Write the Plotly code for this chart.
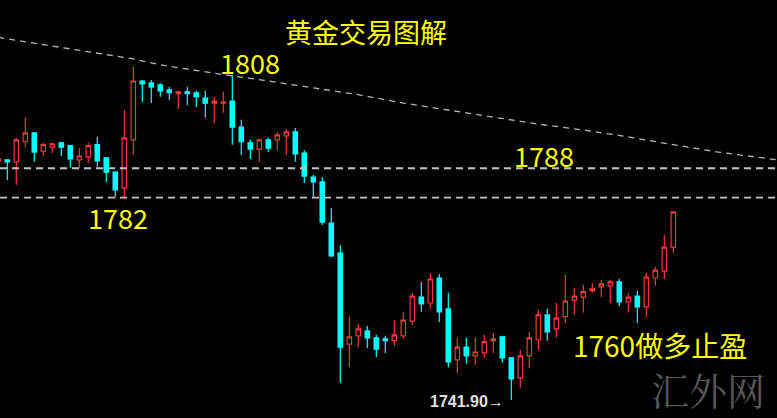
import plotly.graph_objects as go

# ---- data (price units) ----
opens = [1790.7, 1790.9, 1790.5, 1794.6, 1796.4, 1792.7, 1793.5, 1794.4, 1793.8, 1790.9,
         1791.5, 1794.0, 1791.3, 1788.4, 1785.2, 1795.0, 1807.0, 1806.6, 1806.2, 1805.2,
         1804.4, 1804.8, 1804.6, 1803.5, 1802.5, 1802.5, 1802.9, 1797.6, 1794.4, 1793.1,
         1795.0, 1795.0, 1795.8, 1796.6, 1792.3, 1787.4, 1786.4, 1778.0, 1771.9, 1753.3,
         1755.0, 1756.0, 1754.6, 1754.4, 1754.0, 1755.0, 1758.0, 1762.9, 1761.7, 1766.8,
         1760.5, 1750.1, 1752.7, 1750.9, 1751.5, 1754.0, 1754.8, 1750.5, 1746.4, 1750.9,
         1754.2, 1759.3, 1756.4, 1758.9, 1762.3, 1762.9, 1764.2, 1765.0, 1765.2, 1766.0,
         1761.9, 1763.1, 1760.9, 1766.8, 1768.2, 1773.1]
highs = [1791.5, 1791.1, 1795.4, 1799.5, 1796.6, 1794.4, 1794.4, 1794.6, 1794.0, 1793.3,
         1794.4, 1795.6, 1791.5, 1788.6, 1801.1, 1809.9, 1807.2, 1807.2, 1806.6, 1805.8,
         1805.0, 1805.8, 1805.0, 1805.0, 1803.8, 1804.8, 1808.2, 1799.1, 1795.0, 1795.2,
         1795.4, 1796.6, 1797.2, 1797.4, 1792.9, 1787.8, 1787.4, 1781.1, 1773.5, 1758.9,
         1757.4, 1757.0, 1755.2, 1755.0, 1758.2, 1759.9, 1763.8, 1766.0, 1767.8, 1767.6,
         1763.8, 1754.6, 1754.6, 1754.6, 1755.2, 1755.6, 1755.0, 1750.7, 1752.1, 1755.8,
         1760.3, 1760.5, 1761.7, 1767.4, 1764.8, 1765.4, 1765.8, 1766.4, 1766.4, 1766.6,
         1763.8, 1764.2, 1767.8, 1769.1, 1775.6, 1780.3]
lows = [1790.3, 1786.8, 1785.8, 1793.5, 1790.5, 1791.7, 1792.3, 1791.7, 1789.3, 1789.3,
        1790.3, 1789.5, 1786.4, 1783.3, 1783.1, 1791.9, 1802.7, 1802.5, 1803.8, 1803.1,
        1801.3, 1802.1, 1801.7, 1799.5, 1798.4, 1800.5, 1794.0, 1791.9, 1791.1, 1790.5,
        1792.5, 1792.9, 1791.9, 1790.5, 1786.2, 1783.1, 1777.6, 1771.1, 1745.4, 1748.6,
        1752.7, 1752.5, 1750.7, 1751.5, 1752.9, 1754.4, 1757.2, 1759.9, 1760.5, 1757.8,
        1748.6, 1747.4, 1749.3, 1749.1, 1750.5, 1751.5, 1749.5, 1741.9, 1744.4, 1748.4,
        1752.1, 1754.0, 1754.6, 1757.6, 1759.3, 1759.7, 1763.8, 1762.9, 1761.7, 1761.1,
        1759.7, 1757.6, 1758.9, 1765.2, 1766.6, 1771.9]
closes = [1791.1, 1790.5, 1795.0, 1796.4, 1792.5, 1794.0, 1794.2, 1793.5, 1791.1, 1791.7,
          1793.8, 1790.7, 1788.4, 1784.8, 1795.4, 1807.0, 1806.4, 1805.8, 1805.0, 1804.6,
          1804.8, 1804.4, 1803.8, 1802.5, 1802.9, 1802.7, 1797.6, 1794.6, 1793.1, 1795.0,
          1793.3, 1796.0, 1796.6, 1792.1, 1787.6, 1786.4, 1778.2, 1771.3, 1752.7, 1754.8,
          1756.4, 1754.6, 1752.3, 1754.0, 1755.2, 1758.2, 1763.1, 1761.5, 1766.6, 1759.9,
          1749.7, 1752.7, 1750.9, 1751.7, 1753.8, 1754.4, 1750.5, 1746.2, 1750.9, 1754.6,
          1759.3, 1755.8, 1758.6, 1762.1, 1763.1, 1764.0, 1764.6, 1765.6, 1766.0, 1761.9,
          1762.9, 1760.9, 1767.0, 1768.4, 1773.1, 1780.3]
bars = list(range(len(opens)))

# declining moving-average (dashed), sampled at bar positions
ma_x = [0, 5, 10, 15, 18, 22, 25, 30, 35, 40, 45, 50, 55, 60, 65, 70, 75, 80, 87]
ma_y = [1815.9, 1814.4, 1812.9, 1811.5, 1810.3, 1809.1, 1808.3, 1807.0, 1805.6, 1804.2,
        1802.5, 1801.1, 1799.7, 1798.2, 1797.0, 1795.6, 1794.0, 1792.5, 1790.8]

# horizontal support/resistance levels
levels = [1789.2, 1783.2]

# texts
title_text = "黄金交易图解"
label_texts = ["1808", "1788", "1782", "1760做多止盈"]
low_label = "1741.90→"
watermark = "汇外网"

W, H = 777, 418
RED = "#ee3a3a"
CYAN = "#00ffff"
YELLOW = "#ffff00"

fig = go.Figure()

fig.add_trace(go.Scatter(
    x=ma_x, y=ma_y, mode="lines",
    line=dict(color="#b4b4b4", width=1.3, dash="6px,5px"),
    hoverinfo="skip"))

fig.add_trace(go.Candlestick(
    x=bars, open=opens, high=highs, low=lows, close=closes,
    increasing=dict(line=dict(color=RED, width=1.2), fillcolor="#000000"),
    decreasing=dict(line=dict(color=CYAN, width=1.2), fillcolor=CYAN),
    whiskerwidth=0))

for lv in levels:
    fig.add_shape(type="line", xref="paper", x0=0, x1=1, yref="y", y0=lv, y1=lv,
                  line=dict(color="#c4c4c4", width=1.8, dash="7px,5px"), layer="above")

def px2paper(px, py):
    return px / W, 1 - py / H

ann = []
cjk = "Noto Sans CJK SC"
for txt, (cx, cy), size in [
        (title_text, (366, 32), 27),
        (label_texts[0], (250, 62), 27),
        (label_texts[1], (544, 156), 27),
        (label_texts[2], (118, 217), 27),
        (label_texts[3], (660, 345), 28)]:
    x, y = px2paper(cx, cy)
    ann.append(dict(text=txt, x=x, y=y, xref="paper", yref="paper",
                    xanchor="center", yanchor="middle", showarrow=False,
                    font=dict(family=cjk, size=size, color=YELLOW)))

x, y = px2paper(467, 401)
ann.append(dict(text="<b>" + low_label + "</b>", x=x, y=y, xref="paper", yref="paper",
                xanchor="center", yanchor="middle", showarrow=False,
                font=dict(family="Liberation Sans, Arial", size=16, color="#e0e0e0")))

x, y = px2paper(708, 388)
ann.append(dict(text=watermark, x=x, y=y, xref="paper", yref="paper",
                xanchor="center", yanchor="middle", showarrow=False,
                font=dict(family="Noto Serif CJK SC, " + cjk, size=38, color="#575757")))

# axis ranges chosen to reproduce the reference framing
fig.update_layout(
    width=W, height=H,
    margin=dict(l=0, r=0, t=0, b=0),
    paper_bgcolor="#000000", plot_bgcolor="#000000",
    showlegend=False,
    boxgap=0.3,
    annotations=ann,
    xaxis=dict(range=[0.19, 86.52], visible=False, rangeslider=dict(visible=False),
               showgrid=False, zeroline=False),
    yaxis=dict(range=[1738.23, 1823.53], visible=False, showgrid=False, zeroline=False),
)

fig.write_html(
    "out.html",
    config={"displayModeBar": False},
    post_script="document.body.style.margin='0';document.body.style.background='#000';",
)
